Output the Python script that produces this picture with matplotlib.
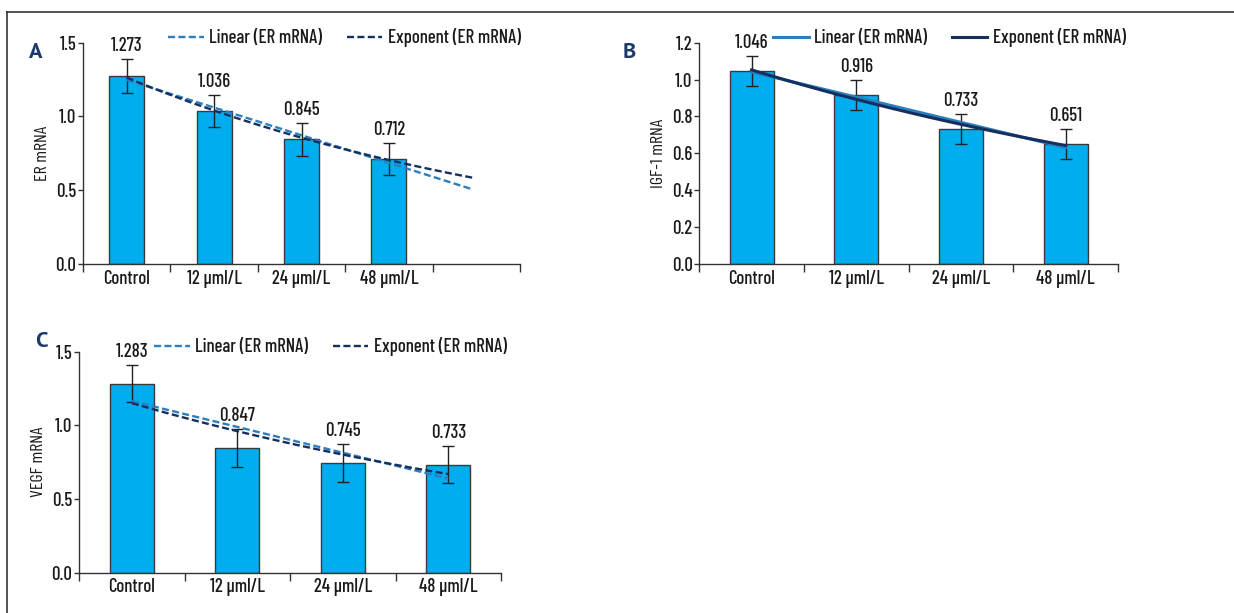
import numpy as np
import matplotlib
matplotlib.use("Agg")
import matplotlib.pyplot as plt
from matplotlib.lines import Line2D

plt.rcParams['font.family'] = ['Barlow Condensed', 'PT Sans Narrow', 'Liberation Sans', 'DejaVu Sans']
plt.rcParams['font.weight'] = 'medium'

categories = ['Control', '12 μml/L', '24 μml/L', '48 μml/L']

er_mrna = [1.273, 1.036, 0.845, 0.712]
er_err = [0.115, 0.11, 0.11, 0.11]

igf_mrna = [1.046, 0.916, 0.733, 0.651]
igf_err = [0.08, 0.08, 0.08, 0.08]

vegf_mrna = [1.283, 0.847, 0.745, 0.733]
vegf_err = [0.125, 0.13, 0.13, 0.127]

BAR = '#00aeef'
EDGE = '#3a3a3a'
LIN = '#2c7fbf'
EXP = '#14305f'
NAVY = '#1b3a6b'
TXT = '#1a1a1a'
FS = 13.5

fig = plt.figure(figsize=(12.34, 6.13), dpi=100)

# outer frame (top and left only)
fy = 1 - 12 / 613
fx = 7 / 1234
fig.add_artist(Line2D([fx, 1], [fy, fy], color='#333333', lw=1.2))
fig.add_artist(Line2D([fx, fx], [0, fy], color='#333333', lw=1.2))


def panel(rect, values, errs, ylabel, ymax, ystep, letter, letter_xy,
          nslots, width, trend_end, dashed, leg_x):
    ax = fig.add_axes(rect)
    x = np.arange(len(values))
    ax.bar(x, values, width=width, color=BAR, edgecolor=EDGE, linewidth=1, zorder=2)
    ax.errorbar(x, values, yerr=errs, fmt='none', ecolor='#222222',
                elinewidth=1, capsize=4.5, capthick=1, zorder=4)
    for xi, v, e in zip(x, values, errs):
        ax.annotate(f'{v:.3f}', (xi, v + e), xytext=(0, 3), textcoords='offset points',
                    ha='center', va='bottom', fontsize=FS, color=TXT)

    # trendlines fitted to the bar values
    xt = np.linspace(0, trend_end, 60)
    lin = np.polyfit(x, values, 1)
    ex = np.polyfit(x, np.log(values), 1)
    ls = (0, (3, 1.4)) if dashed else '-'
    lw = 1.7 if dashed else 2.2
    ax.plot(xt, np.polyval(lin, xt), color=LIN, lw=lw, ls=ls, zorder=5,
            label='Linear (ER mRNA)')
    ax.plot(xt, np.exp(np.polyval(ex, xt)), color=EXP, lw=lw, ls=ls, zorder=5,
            label='Exponent (ER mRNA)')

    ax.set_xlim(-0.5, nslots - 0.5)
    ax.set_ylim(0, ymax)
    yt = np.arange(0, ymax + 1e-9, ystep)
    ax.set_yticks(yt)
    ax.set_yticklabels([f'{t:.1f}' for t in yt])
    ax.set_xticks(np.arange(-0.5, nslots, 1.0))
    ax.set_xticklabels([])
    ax.set_xticks(x, minor=True)
    ax.set_xticklabels(categories, minor=True)
    ax.tick_params(axis='x', which='major', length=5.5, width=1, color='#333333')
    ax.tick_params(axis='x', which='minor', length=0, pad=4, labelsize=FS, labelcolor=TXT)
    ax.tick_params(axis='y', length=3.3, width=1, pad=1.5, labelsize=FS,
                   color='#333333', labelcolor=TXT)
    for s in ['top', 'right']:
        ax.spines[s].set_visible(False)
    for s in ['left', 'bottom']:
        ax.spines[s].set_color('#333333')
        ax.spines[s].set_linewidth(1)
    ax.set_ylabel(ylabel, fontsize=FS - 0.5, color=TXT, labelpad=4)

    ax.legend(loc='center', bbox_to_anchor=(leg_x, 1.022), ncol=2, frameon=False,
              fontsize=FS, handlelength=1.9, handletextpad=0.3, columnspacing=1.3,
              borderaxespad=0, labelcolor=TXT)
    fig.text(letter_xy[0], letter_xy[1], letter, fontsize=16, fontweight='bold',
             color=NAVY, family=['PT Sans', 'Liberation Sans', 'DejaVu Sans'],
             ha='center', va='center')
    return ax


panel([83 / 1234, 1 - 264 / 613, 437 / 1234, 221.3 / 613], er_mrna, er_err,
      'ER mRNA', 1.5, 0.5, 'A', (36 / 1234, 1 - 53 / 613),
      nslots=5, width=0.40, trend_end=3.96, dashed=True, leg_x=0.598)

panel([699.3 / 1234, 1 - 264 / 613, 418.7 / 1234, 221.3 / 613], igf_mrna, igf_err,
      'IGF-1 mRNA', 1.2, 0.2, 'B', (629 / 1234, 1 - 53 / 613),
      nslots=4, width=0.42, trend_end=3, dashed=False, leg_x=0.598)

panel([79 / 1234, 1 - 572.7 / 613, 422 / 1234, 221 / 613], vegf_mrna, vegf_err,
      'VEGF mRNA', 1.5, 0.5, 'C', (41 / 1234, 1 - 341.7 / 613),
      nslots=4, width=0.42, trend_end=3, dashed=True, leg_x=0.596)

fig.savefig('out.png', dpi=100)
